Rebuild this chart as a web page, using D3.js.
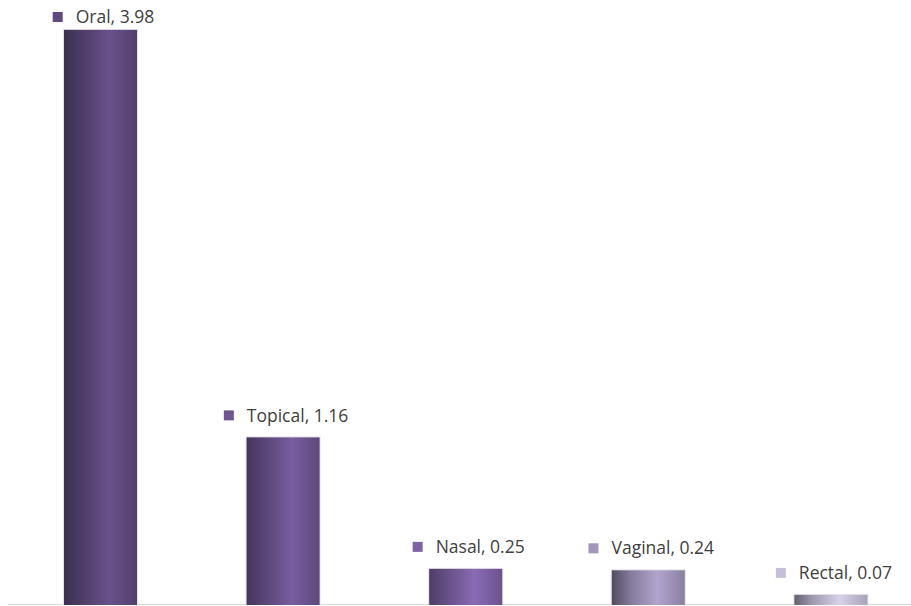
<!DOCTYPE html>
<html>
<head>
<meta charset="utf-8">
<script src="https://cdn.jsdelivr.net/npm/d3@7"></script>
<style>
  html, body { margin: 0; padding: 0; background: #fff; }
  svg { display: block; }
</style>
</head>
<body>
<div id="chart"></div>
<script>
const routes = ["Oral", "Topical", "Nasal", "Vaginal", "Rectal"];
const values = [3.98, 1.16, 0.25, 0.24, 0.07];
const colors = ["#604a80", "#6e5592", "#7e62a6", "#a296bd", "#c5bfd8"];

const W = 911, H = 606;

const svg = d3.select("#chart")
  .append("svg")
  .attr("width", W)
  .attr("height", H)
  .style("font-family", "'Open Sans', 'DejaVu Sans', sans-serif");

const x = d3.scaleBand()
  .domain(routes)
  .range([9.2, 922.2])
  .paddingInner(0.6)
  .paddingOuter(0.3);

const y = d3.scaleLinear()
  .domain([0, 4])
  .range([605, 27]);

// cylinder-ish gradients, one per bar
const defs = svg.append("defs");
routes.forEach((r, i) => {
  const base = d3.rgb(colors[i]);
  const g = defs.append("linearGradient")
    .attr("id", "grad" + i)
    .attr("x1", "0%").attr("x2", "100%")
    .attr("y1", "0%").attr("y2", "0%");
  const dark = i < 3 ? base.darker(1.3) : base.darker(1.9);
  g.append("stop").attr("offset", "0%").attr("stop-color", dark);
  g.append("stop").attr("offset", "25%").attr("stop-color", base.darker(0.6));
  g.append("stop").attr("offset", "62%").attr("stop-color", base.brighter(0.25));
  g.append("stop").attr("offset", "100%").attr("stop-color", base.darker(0.45));
});

// baseline
svg.append("line")
  .attr("x1", 8).attr("x2", W)
  .attr("y1", y(0) - 0.5).attr("y2", y(0) - 0.5)
  .attr("stroke", "#d9d9d9")
  .attr("stroke-width", 1);

// faint shadow behind bars
svg.selectAll(".shadow")
  .data(routes)
  .join("rect")
  .attr("class", "shadow")
  .attr("x", d => x(d) - 1)
  .attr("y", (d, i) => y(values[i]) - 1)
  .attr("width", x.bandwidth() + 2)
  .attr("height", (d, i) => y(0) - y(values[i]) + 1)
  .attr("fill", "#e4e4e8");

svg.selectAll(".bar")
  .data(routes)
  .join("rect")
  .attr("class", "bar")
  .attr("x", d => x(d))
  .attr("y", (d, i) => y(values[i]))
  .attr("width", x.bandwidth())
  .attr("height", (d, i) => y(0) - y(values[i]))
  .attr("fill", (d, i) => `url(#grad${i})`);

// data labels with legend key
const labels = svg.selectAll(".lbl")
  .data(routes)
  .join("g")
  .attr("class", "lbl");

labels.each(function (d, i) {
  const g = d3.select(this);
  const cy = Math.max(17, y(values[i]) - 22);
  const txt = g.append("text")
    .attr("y", cy)
    .attr("dy", "0.35em")
    .attr("font-size", 17.5)
    .attr("fill", "#404040")
    .text(`${d}, ${values[i]}`);
  const tw = txt.node().getComputedTextLength();
  const total = 23 + tw;
  const left = x(d) + x.bandwidth() / 2 + 3 - total / 2;
  g.append("rect")
    .attr("x", left)
    .attr("y", cy - 5)
    .attr("width", 10)
    .attr("height", 10)
    .attr("fill", colors[i]);
  txt.attr("x", left + 23);
});
</script>
</body>
</html>
